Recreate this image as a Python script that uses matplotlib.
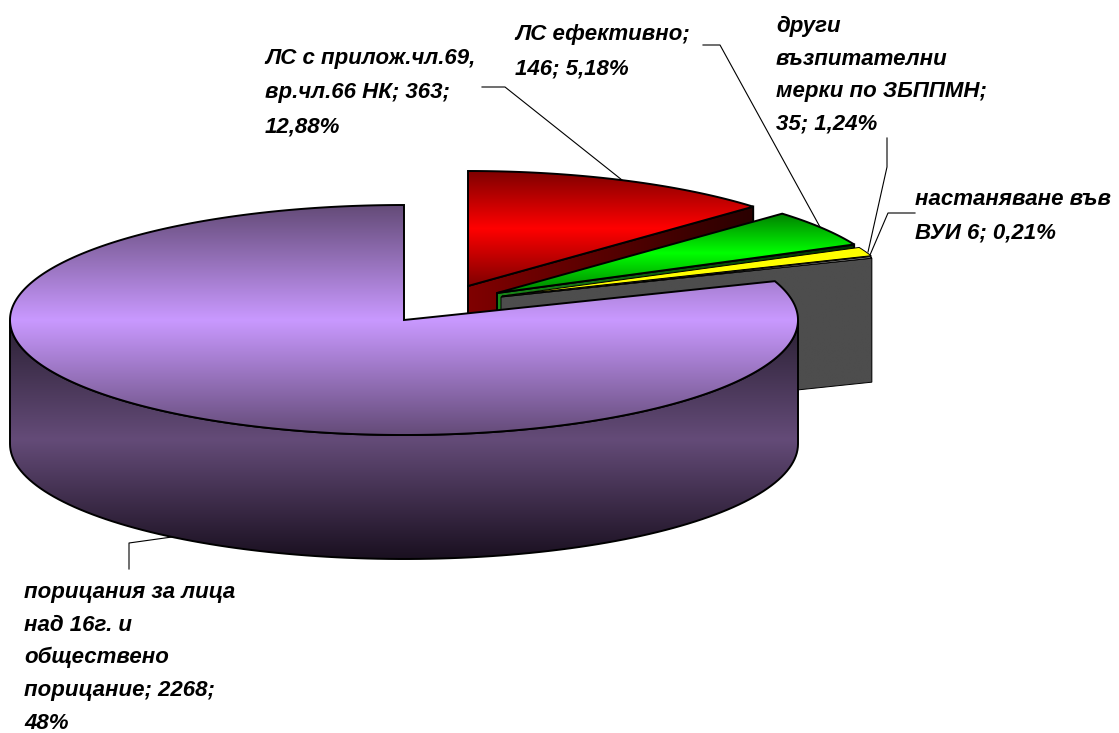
import numpy as np
import matplotlib
matplotlib.use('Agg')
import matplotlib.pyplot as plt
from matplotlib.colors import LinearSegmentedColormap
from matplotlib.patches import Polygon

# стойности от диаграмата
names = ['ЛС с прилож.чл.69,\nвр.чл.66 НК; 363;\n12,88%',
         'ЛС ефективно;\n146; 5,18%',
         'други\nвъзпитателни\nмерки по ЗБППМН;\n35; 1,24%',
         'настаняване във\nВУИ 6; 0,21%',
         'порицания за лица\nнад 16г. и\nобществено\nпорицание; 2268;\n48%']
values = [363, 146, 35, 6, 2268]

# изнесени центрове на резените и цветове
centers = [(468, 286), (497, 293), (502, 296), (501, 297), (404, 320)]
top_dark = ['#7f0000', '#007f00', '#ffff00', '#999999', '#644b78']
top_light = ['#ff0000', '#00ff00', '#ffff00', '#cccccc', '#c999ff']
side_a = ['#800000', '#1a8a1a', '#7f7f00', '#4d4d4d']
side_b = ['#2a0000', '#003000', '#555500', '#4d4d4d']
edge_w = [1.4, 1.4, 0.7, 0.7, 1.4]
label_pos = [(265, 48), (515, 24), (776, 16), (915, 189), (24, 582)]
label_space = [1.83, 1.83, 1.72, 1.78, 1.72]

RX, RY, DEPTH = 394, 115, 124

fig = plt.figure(figsize=(11.19, 7.33), dpi=100)
ax = fig.add_axes([0, 0, 1, 1])


def rim(c, t0, t1, n=120):
    t = np.radians(np.linspace(t0, t1, n))
    return np.column_stack([c[0] + RX * np.cos(t), c[1] - RY * np.sin(t)])


def grad_poly(pts, colors, z, lw=1.4, horizontal=False):
    x0, x1 = pts[:, 0].min(), pts[:, 0].max()
    y0, y1 = pts[:, 1].min(), pts[:, 1].max()
    cmap = LinearSegmentedColormap.from_list('g', colors)
    g = np.linspace(0, 1, 256)
    g = g.reshape(1, -1) if horizontal else g.reshape(-1, 1)
    im = ax.imshow(g, cmap=cmap, extent=(x0, x1, y1, y0), aspect='auto',
                   zorder=z, interpolation='bilinear', origin='upper')
    p = Polygon(pts, closed=True, fc='none', ec='none', transform=ax.transData)
    ax.add_patch(p)
    im.set_clip_path(p)
    ax.add_patch(Polygon(pts, closed=True, fc='none', ec='black', lw=lw, zorder=z + 0.5))


# резени по часовниковата стрелка от 90 градуса
sweep = np.array(values) / sum(values) * 360
ends = 90 - np.cumsum(sweep)
starts = np.r_[90, ends[:-1]]

z = 2
for i in range(4):
    c = centers[i]
    end_pt = rim(c, ends[i], ends[i], 1)[0]
    # срязана стена
    wall = np.array([c, end_pt, end_pt + [0, DEPTH], (c[0], c[1] + DEPTH)], dtype=float)
    grad_poly(wall, [side_a[i], side_b[i]], z, lw=edge_w[i], horizontal=True)
    z += 1
    # горна част
    top = np.vstack([c, rim(c, starts[i], ends[i])])
    grad_poly(top, [top_dark[i], top_light[i], top_dark[i]], z, lw=edge_w[i])
    z += 1

# големият резен - стена и горна част
c = centers[4]
outer = rim(c, 180, 360)
wall = np.vstack([outer, outer[::-1] + [0, DEPTH]])
grad_poly(wall, ['#2a2033', '#644b78', '#1a1020'], z)
z += 1
top = np.vstack([c, rim(c, starts[4], ends[4], 400)])
grad_poly(top, [top_dark[4], top_light[4], top_dark[4]], z)
z += 1

# водещи линии
leaders = [([482, 505, 622], [87, 87, 180]),
           ([703, 720, 820], [45, 45, 227]),
           ([887, 887, 868], [138, 167, 252]),
           ([915, 888, 870], [213, 213, 255]),
           ([129, 129, 172], [569, 543, 537])]
for lx, ly in leaders:
    ax.plot(lx, ly, color='black', lw=0.8, zorder=1)

for txt, pos, sp in zip(names, label_pos, label_space):
    ax.text(pos[0], pos[1], txt, fontsize=16, family='Liberation Sans',
            weight='bold', style='italic', va='top', ha='left',
            linespacing=sp, zorder=z + 1, clip_on=True)

ax.set_xlim(0, 1119)
ax.set_ylim(733, 0)
ax.axis('off')
fig.savefig('out.png', dpi=100, facecolor='white')
